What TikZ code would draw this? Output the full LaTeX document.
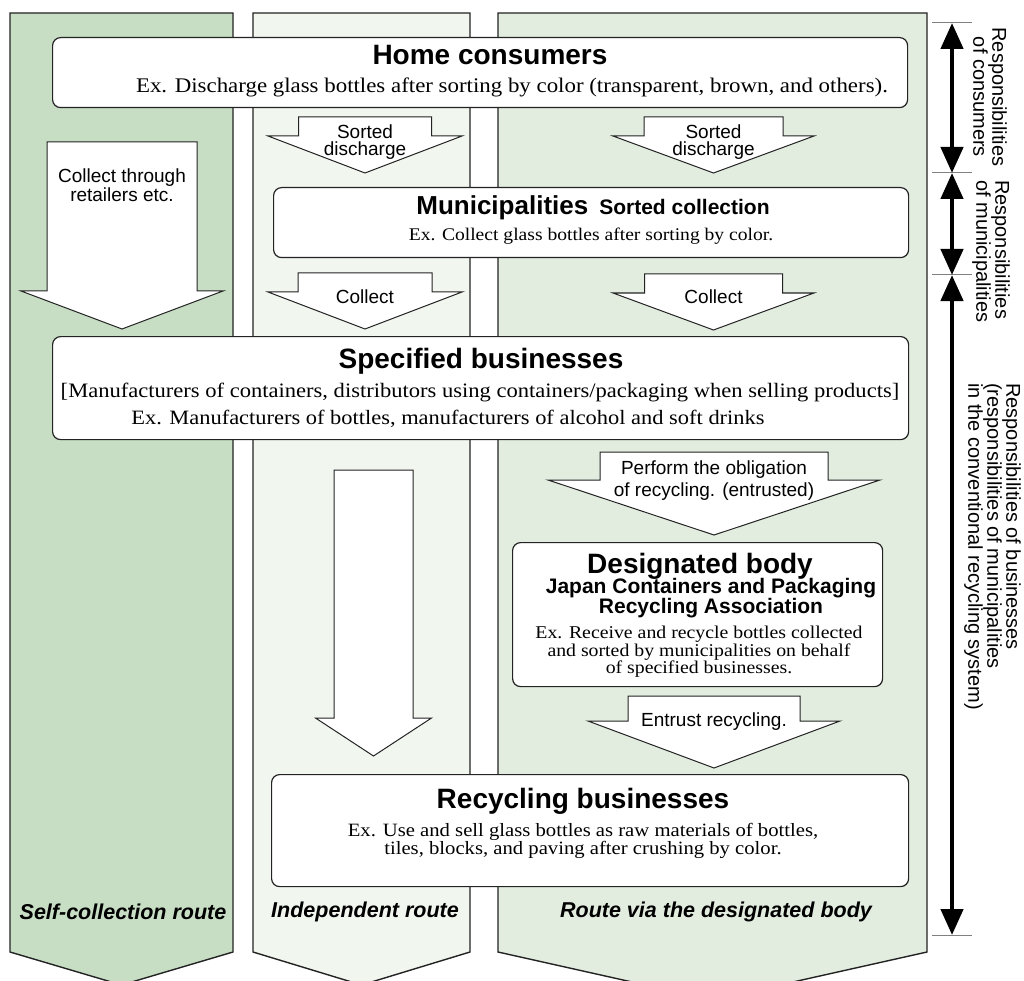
\documentclass[tikz,border=0pt]{standalone}
\usepackage{fontspec}
\setmainfont{Liberation Serif}[FakeStretch=1.1]
\setsansfont{Liberation Sans}
\usetikzlibrary{arrows.meta}

\definecolor{laneA}{RGB}{199,222,196}
\definecolor{laneB}{RGB}{241,246,239}
\definecolor{laneC}{RGB}{226,237,224}
\definecolor{ink}{RGB}{35,35,35}

\newcommand{\fs}[2]{\fontsize{#1}{#2}\selectfont}

% hollow downward block arrow:
% centre x, top y, half body width, shoulder y, half head width, tip y
\newcommand{\hollowarrow}[6]{%
  \draw[flowarrow] (#1-#3,#2) -- (#1+#3,#2) -- (#1+#3,#4) -- (#1+#5,#4)
    -- (#1,#6) -- (#1-#5,#4) -- (#1-#3,#4) -- cycle;}

\tikzset{
  lane/.style={draw=ink, line width=1.4pt, line join=miter},
  stagebox/.style={draw=ink, fill=white, line width=1.2pt, rounded corners=8pt,
    inner sep=0pt, anchor=north west},
  flowarrow/.style={draw=ink, fill=white, line width=1pt, line join=miter},
  headline/.style={font=\sffamily\bfseries\fs{28}{30}, inner sep=0pt},
  serifline/.style={align=center, inner sep=0pt},
  arrowlabel/.style={font=\sffamily\fs{19}{17.5}, align=center, inner sep=0pt},
  routelabel/.style={font=\sffamily\bfseries\itshape\fs{21.5}{22}, inner sep=0pt},
  duty/.style={font=\sffamily\fs{20}{19}, inner sep=0pt, rotate=-90},
  dutyspan/.style={line width=4.5pt,
    {Triangle[width=22pt,length=26pt]}-{Triangle[width=22pt,length=26pt]}},
  tickmark/.style={draw=gray, line width=1pt},
}

\begin{document}
\begin{tikzpicture}[x=1pt,y=-1pt]
\useasboundingbox (0,0) rectangle (1024,981);
\clip (0,0) rectangle (1024,981);
\fill[white] (0,0) rectangle (1024,981);

% three route lanes, each ending in a chevron
\draw[lane, fill=laneA] (10,13) -- (233,13) -- (233,952) -- (121.5,985) -- (10,952) -- cycle;
\draw[lane, fill=laneB] (253,13) -- (470,13) -- (470,952) -- (361.5,985) -- (253,952) -- cycle;
\draw[lane, fill=laneC] (498,13) -- (927,13) -- (927,952) -- (712.5,1000) -- (498,952) -- cycle;

% stages
\node[stagebox, minimum width=855pt, minimum height=70pt] (home) at (52,37) {};
\node[headline] (homeT) at (490,55) {Home consumers};
\node[serifline, font=\fs{20.8}{18}] (homeS) at (512,87)
  {Ex. Discharge glass bottles after sorting by color (transparent, brown, and others).};

\node[stagebox, minimum width=635pt, minimum height=70pt] (muni) at (273,187) {};
\node[inner sep=0pt, font=\sffamily\bfseries] (muniT) at (593,208)
  {\fs{26}{28}Municipalities\hspace{11pt}\fs{21}{22}Sorted collection};
\node[serifline, font=\fs{17.8}{18}] (muniS) at (591,236) {Ex. Collect glass bottles after sorting by color.};

\node[stagebox, minimum width=856pt, minimum height=103pt] (spec) at (52,336) {};
\node[headline] (specT) at (481,361) {Specified businesses};
\node[serifline, font=\fs{20.5}{18}] (specS1) at (480,392)
  {[Manufacturers of containers, distributors using containers/packaging when selling products]};
\node[serifline, font=\fs{20.4}{18}] (specS2) at (448,419)
  {Ex. Manufacturers of bottles, manufacturers of alcohol and soft drinks};

\node[stagebox, minimum width=370pt, minimum height=144pt] (desig) at (512,542) {};
\node[headline] (desigT) at (700,566) {Designated body};
\node[font=\sffamily\bfseries\fs{21}{18}, align=center, inner sep=0pt] (desigA) at (711,598)
  {Japan Containers and Packaging\\Recycling Association};
\node[serifline, font=\fs{18}{17.5}] (desigS) at (699,652)
  {Ex. Receive and recycle bottles collected\\and sorted by municipalities on behalf\\of specified businesses.};

\node[stagebox, minimum width=637pt, minimum height=112pt] (recyc) at (271,774) {};
\node[headline] (recycT) at (583,801) {Recycling businesses};
\node[serifline, font=\fs{18.8}{16}] (recycS) at (583,841)
  {Ex. Use and sell glass bottles as raw materials of bottles,\\tiles, blocks, and paving after crushing by color.};

% flows between stages
\hollowarrow{122}{142}{75}{291}{101}{329}
\node[arrowlabel, font=\sffamily\fs{19}{19}] (viaShops) at (122,185) {Collect through\\retailers etc.};

\hollowarrow{365}{117}{66.5}{136}{97}{173}
\node[arrowlabel] (dis2) at (365,142) {Sorted\\discharge};
\hollowarrow{713.5}{117}{69.5}{136}{100.5}{173}
\node[arrowlabel] (dis3) at (713.5,142) {Sorted\\discharge};

\hollowarrow{365}{273}{67}{292}{97}{329}
\node[arrowlabel] (col2) at (365,297) {Collect};
\hollowarrow{713.5}{274}{69}{293}{100.5}{330}
\node[arrowlabel] (col3) at (713.5,297) {Collect};

\hollowarrow{373.5}{470}{39.5}{718}{58}{756}

\hollowarrow{714}{452}{114}{480}{166}{535}
\node[arrowlabel, font=\sffamily\fs{19}{22}] (oblig) at (714,481)
  {Perform the obligation\\of recycling. (entrusted)};

\hollowarrow{714}{696}{86}{721}{126}{768}
\node[arrowlabel] (entr) at (714,722) {Entrust recycling.};

% route names
\node[routelabel] (r1) at (123,912) {Self-collection route};
\node[routelabel] (r2) at (365,912) {Independent route};
\node[routelabel] (r3) at (716,912) {Route via the designated body};

% spans of responsibility
\coordinate (t0) at (952,23);
\coordinate (t1) at (952,173);
\coordinate (t2) at (952,275);
\coordinate (t3) at (952,935);
\foreach \t in {t0,t1,t2,t3}
  \draw[tickmark] ([xshift=-20pt]\t) -- ([xshift=20pt]\t);
\draw[dutyspan] (t0) -- (t1);
\draw[dutyspan] (t1) -- (t2);
\draw[dutyspan] (t2) -- (t3);

\node[duty, align=center] (d1) at (990,97) {Responsibilities\\of consumers};
\node[duty, align=left, anchor=west] (d2) at (991,180) {Responsibilities\\of municipalities};
\node[duty, align=left, anchor=west] (d3) at (992.5,383)
  {Responsibilities of businesses\\(responsibilities of municipalities\\in the conventional recycling system)};
\end{tikzpicture}
\end{document}
